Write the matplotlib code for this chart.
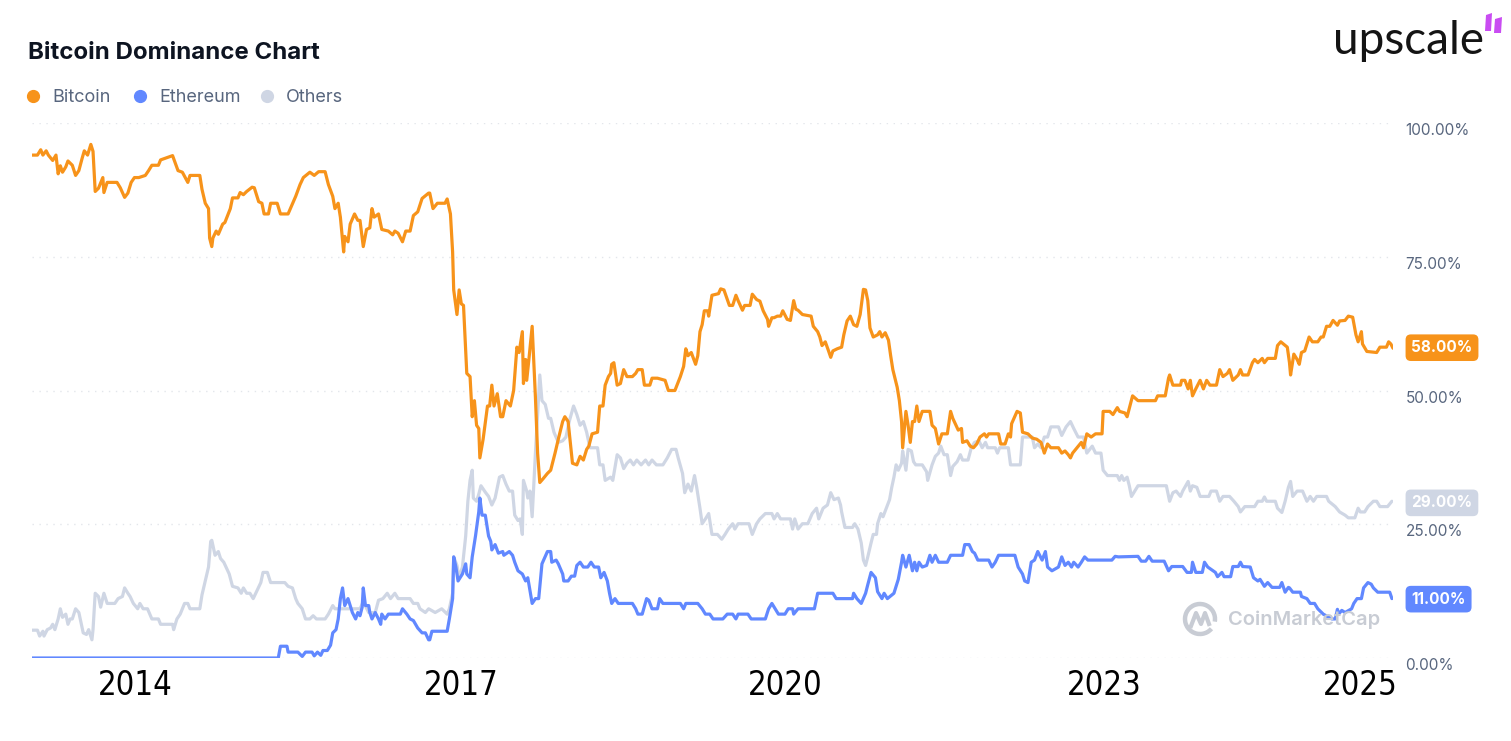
import matplotlib
matplotlib.use("Agg")
import matplotlib.pyplot as plt
from matplotlib.lines import Line2D
from matplotlib.patches import Arc, Polygon
import matplotlib.transforms as mtransforms

# ---- data (decimal year, dominance %) ----
btc_t = [2013.33, 2013.38, 2013.41, 2013.43, 2013.46, 2013.48, 2013.52, 2013.55, 2013.57, 2013.59,
         2013.61, 2013.64, 2013.66, 2013.70, 2013.73, 2013.76, 2013.79, 2013.81, 2013.84, 2013.87,
         2013.89, 2013.91, 2013.94, 2013.98, 2013.99, 2014.02, 2014.11, 2014.14, 2014.18, 2014.21,
         2014.24, 2014.27, 2014.31, 2014.37, 2014.40, 2014.43, 2014.49, 2014.51, 2014.62, 2014.67,
         2014.71, 2014.76, 2014.78, 2014.87, 2014.89, 2014.92, 2014.95, 2014.96, 2014.98, 2014.99,
         2015.02, 2015.04, 2015.08, 2015.10, 2015.15, 2015.17, 2015.22, 2015.24, 2015.27, 2015.30,
         2015.35, 2015.37, 2015.41, 2015.44, 2015.46, 2015.50, 2015.52, 2015.58, 2015.61, 2015.68,
         2015.75, 2015.79, 2015.82, 2015.88, 2015.92, 2015.96, 2016.02, 2016.05, 2016.09, 2016.11,
         2016.14, 2016.16, 2016.19, 2016.20, 2016.23, 2016.25, 2016.29, 2016.32, 2016.34, 2016.37,
         2016.40, 2016.43, 2016.45, 2016.47, 2016.51, 2016.54, 2016.60, 2016.64, 2016.66, 2016.69,
         2016.73, 2016.76, 2016.80, 2016.83, 2016.87, 2016.91, 2016.97, 2016.98, 2017.01, 2017.05,
         2017.12, 2017.14, 2017.17, 2017.19, 2017.20, 2017.23, 2017.25, 2017.27, 2017.29, 2017.32,
         2017.35, 2017.37, 2017.39, 2017.41, 2017.43, 2017.44, 2017.47, 2017.51, 2017.53, 2017.55,
         2017.57, 2017.60, 2017.63, 2017.65, 2017.68, 2017.72, 2017.75, 2017.78, 2017.80, 2017.83,
         2017.84, 2017.86, 2017.87, 2017.89, 2017.92, 2017.95, 2017.97, 2017.99, 2018.02, 2018.06,
         2018.09, 2018.13, 2018.16, 2018.20, 2018.22, 2018.25, 2018.29, 2018.33, 2018.36, 2018.39,
         2018.42, 2018.44, 2018.47, 2018.52, 2018.54, 2018.57, 2018.59, 2018.62, 2018.64, 2018.65,
         2018.67, 2018.70, 2018.73, 2018.76, 2018.79, 2018.84, 2018.87, 2018.89, 2018.93, 2018.95,
         2019.00, 2019.02, 2019.07, 2019.14, 2019.17, 2019.23, 2019.28, 2019.31, 2019.33, 2019.35,
         2019.38, 2019.42, 2019.44, 2019.46, 2019.48, 2019.50, 2019.53, 2019.54, 2019.57, 2019.63,
         2019.65, 2019.68, 2019.73, 2019.76, 2019.79, 2019.81, 2019.85, 2019.87, 2019.92, 2019.94,
         2019.98, 2020.01, 2020.04, 2020.08, 2020.09, 2020.12, 2020.14, 2020.17, 2020.20, 2020.22,
         2020.26, 2020.29, 2020.32, 2020.34, 2020.36, 2020.40, 2020.48, 2020.50, 2020.54, 2020.56,
         2020.58, 2020.61, 2020.64, 2020.66, 2020.68, 2020.72, 2020.76, 2020.78, 2020.81, 2020.84,
         2020.87, 2020.90, 2020.93, 2020.96, 2020.98, 2021.00, 2021.02, 2021.05, 2021.09, 2021.11,
         2021.13, 2021.16, 2021.19, 2021.21, 2021.23, 2021.27, 2021.29, 2021.31, 2021.32, 2021.35,
         2021.37, 2021.39, 2021.41, 2021.43, 2021.45, 2021.47, 2021.50, 2021.57, 2021.59, 2021.62,
         2021.65, 2021.68, 2021.73, 2021.76, 2021.78, 2021.81, 2021.83, 2021.86, 2021.87, 2021.91,
         2021.94, 2021.97, 2022.00, 2022.03, 2022.07, 2022.09, 2022.11, 2022.20, 2022.22, 2022.26,
         2022.29, 2022.31, 2022.32, 2022.37, 2022.40, 2022.42, 2022.47, 2022.51, 2022.55, 2022.59,
         2022.62, 2022.65, 2022.68, 2022.75, 2022.78, 2022.81, 2022.84, 2022.86, 2022.88, 2022.92,
         2022.96, 2022.98, 2023.01, 2023.05, 2023.09, 2023.15, 2023.16, 2023.22, 2023.25, 2023.29,
         2023.31, 2023.36, 2023.38, 2023.41, 2023.43, 2023.48, 2023.64, 2023.66, 2023.73, 2023.76,
         2023.77, 2023.80, 2023.87, 2023.88, 2023.91, 2023.94, 2023.96, 2023.98, 2024.01, 2024.05,
         2024.08, 2024.11, 2024.14, 2024.20, 2024.23, 2024.26, 2024.30, 2024.32, 2024.35, 2024.40,
         2024.42, 2024.44, 2024.49, 2024.53, 2024.55, 2024.58, 2024.62, 2024.64, 2024.67, 2024.74,
         2024.76, 2024.79, 2024.85, 2024.87, 2024.88, 2024.91, 2024.94, 2024.96, 2024.98, 2025.01,
         2025.05, 2025.08, 2025.13, 2025.16, 2025.18, 2025.21, 2025.24, 2025.27, 2025.31, 2025.33,
         2025.38, 2025.41, 2025.45, 2025.48, 2025.50, 2025.53, 2025.54, 2025.58, 2025.67, 2025.70,
         2025.76, 2025.78, 2025.80, 2025.82]
btc_v = [94.0, 94.0, 95.0, 94.0, 94.8, 94.0, 93.0, 94.0, 90.5, 92.0,
         90.8, 91.8, 92.9, 92.1, 90.2, 91.1, 93.4, 94.8, 94.0, 96.0,
         94.7, 87.2, 87.8, 89.8, 87.0, 88.9, 88.9, 87.9, 86.1, 86.9,
         88.9, 89.8, 89.8, 90.2, 91.1, 92.1, 92.1, 93.1, 93.9, 91.1,
         90.8, 88.9, 90.2, 90.2, 87.6, 85.0, 84.0, 78.5, 76.9, 78.5,
         79.8, 79.2, 81.1, 81.4, 84.0, 86.0, 86.0, 87.0, 86.6, 87.2,
         88.0, 87.9, 85.3, 85.0, 83.0, 83.0, 85.0, 85.0, 83.0, 83.0,
         86.3, 88.5, 89.8, 90.8, 90.2, 90.9, 90.9, 88.5, 86.3, 84.0,
         85.0, 82.4, 75.9, 78.8, 77.8, 81.1, 83.0, 81.8, 81.8, 76.9,
         80.1, 80.4, 84.0, 82.4, 83.0, 80.1, 79.8, 79.1, 79.8, 79.4,
         77.8, 79.8, 79.8, 82.7, 83.4, 85.9, 86.9, 86.9, 84.0, 85.0,
         85.0, 85.8, 83.0, 75.9, 68.8, 64.2, 68.8, 66.2, 65.9, 53.2,
         52.6, 45.1, 48.1, 43.5, 42.9, 37.4, 40.9, 47.1, 47.1, 51.0,
         47.1, 49.4, 45.1, 45.1, 48.1, 47.1, 50.0, 58.1, 57.1, 61.0,
         51.3, 55.8, 51.9, 55.8, 62.0, 48.7, 38.3, 32.8, 33.5, 34.5,
         35.1, 38.3, 40.9, 44.2, 45.1, 44.2, 36.4, 36.1, 37.7, 37.0,
         39.0, 39.6, 41.9, 42.2, 47.1, 47.1, 51.0, 52.6, 53.2, 54.9,
         55.2, 51.0, 51.3, 53.9, 52.6, 52.6, 53.2, 53.9, 53.9, 51.0,
         51.0, 52.3, 52.3, 51.9, 50.0, 50.0, 52.6, 54.5, 57.8, 56.5,
         57.1, 54.9, 56.5, 61.0, 62.3, 64.9, 64.9, 63.9, 67.8, 68.1,
         69.0, 68.8, 65.9, 65.9, 67.8, 66.8, 65.0, 65.9, 65.9, 68.0,
         67.0, 66.7, 64.9, 63.3, 62.0, 63.6, 63.6, 63.9, 63.9, 64.9,
         63.3, 63.1, 66.8, 65.2, 65.0, 64.2, 63.9, 62.0, 61.0, 60.0,
         58.4, 59.1, 57.4, 56.2, 57.4, 57.8, 58.1, 60.4, 63.0, 63.9,
         62.3, 62.0, 64.2, 68.9, 68.8, 66.8, 61.7, 60.0, 60.4, 61.0,
         60.0, 60.8, 59.4, 56.5, 53.9, 50.6, 48.1, 44.2, 39.3, 46.1,
         43.5, 40.3, 44.2, 44.2, 47.1, 44.2, 46.1, 46.1, 43.5, 42.9,
         40.0, 41.9, 41.9, 46.1, 44.8, 43.5, 42.6, 42.9, 40.3, 40.6,
         39.6, 39.3, 40.0, 41.3, 41.9, 41.3, 41.9, 41.9, 40.0, 40.0,
         41.9, 41.3, 43.8, 46.1, 45.8, 42.2, 41.9, 41.1, 40.9, 40.3,
         38.3, 40.0, 39.3, 39.3, 38.3, 38.7, 38.0, 37.4, 38.3, 39.3,
         40.3, 39.3, 41.9, 41.3, 41.9, 41.9, 46.1, 46.1, 45.5, 46.8,
         46.1, 45.8, 45.1, 47.4, 49.0, 48.1, 48.1, 49.0, 49.0, 52.3,
         52.9, 51.0, 51.0, 51.9, 51.9, 50.3, 51.9, 49.0, 50.3, 51.9,
         50.3, 51.9, 51.0, 51.0, 53.9, 52.6, 53.2, 53.9, 51.9, 52.9,
         53.9, 52.9, 52.9, 55.2, 55.8, 55.2, 56.0, 55.2, 56.0, 56.0,
         58.4, 59.1, 58.1, 55.2, 52.9, 56.8, 55.8, 54.9, 57.1, 57.4,
         60.0, 59.1, 59.1, 60.0, 60.0, 62.0, 62.0, 63.1, 62.2, 63.0,
         63.1, 63.9, 63.7, 60.4, 59.1, 61.0, 58.7, 57.3, 57.1, 58.1,
         58.1, 59.1, 58.7, 57.9]

eth_t = [2013.33, 2015.59, 2015.61, 2015.67, 2015.68, 2015.77, 2015.81, 2015.84, 2015.90, 2015.92,
         2015.95, 2015.98, 2016.00, 2016.04, 2016.07, 2016.09, 2016.12, 2016.14, 2016.16, 2016.18,
         2016.20, 2016.23, 2016.25, 2016.27, 2016.30, 2016.32, 2016.34, 2016.36, 2016.37, 2016.39,
         2016.42, 2016.43, 2016.45, 2016.48, 2016.51, 2016.53, 2016.54, 2016.57, 2016.60, 2016.71,
         2016.73, 2016.77, 2016.80, 2016.83, 2016.87, 2016.91, 2016.94, 2016.97, 2016.98, 2017.00,
         2017.14, 2017.16, 2017.19, 2017.20, 2017.22, 2017.24, 2017.28, 2017.31, 2017.32, 2017.35,
         2017.37, 2017.40, 2017.43, 2017.44, 2017.46, 2017.49, 2017.52, 2017.54, 2017.55, 2017.58,
         2017.61, 2017.65, 2017.66, 2017.71, 2017.74, 2017.76, 2017.79, 2017.83, 2017.86, 2017.88,
         2017.92, 2017.95, 2017.98, 2018.01, 2018.06, 2018.09, 2018.10, 2018.14, 2018.16, 2018.20,
         2018.21, 2018.25, 2018.28, 2018.31, 2018.33, 2018.36, 2018.39, 2018.43, 2018.46, 2018.49,
         2018.53, 2018.55, 2018.58, 2018.61, 2018.63, 2018.65, 2018.68, 2018.71, 2018.84, 2018.87,
         2018.89, 2018.93, 2018.97, 2018.99, 2019.02, 2019.07, 2019.09, 2019.12, 2019.28, 2019.31,
         2019.33, 2019.44, 2019.48, 2019.51, 2019.55, 2019.58, 2019.67, 2019.71, 2019.76, 2019.79,
         2019.81, 2019.90, 2019.93, 2020.06, 2020.09, 2020.12, 2020.15, 2020.18, 2020.24, 2020.27,
         2020.31, 2020.32, 2020.36, 2020.51, 2020.54, 2020.68, 2020.71, 2020.86, 2020.87, 2020.90,
         2020.94, 2020.98, 2021.00, 2021.03, 2021.07, 2021.09, 2021.13, 2021.15, 2021.18, 2021.24,
         2021.28, 2021.31, 2021.32, 2021.35, 2021.38, 2021.41, 2021.43, 2021.45, 2021.47, 2021.50,
         2021.54, 2021.57, 2021.59, 2021.62, 2021.65, 2021.73, 2021.76, 2021.87, 2021.89, 2021.93,
         2021.96, 2021.98, 2022.01, 2022.11, 2022.14, 2022.17, 2022.20, 2022.35, 2022.38, 2022.42,
         2022.44, 2022.47, 2022.50, 2022.53, 2022.56, 2022.60, 2022.63, 2022.65, 2022.69, 2022.75,
         2022.78, 2022.81, 2022.84, 2022.87, 2022.89, 2022.93, 2022.96, 2022.99, 2023.02, 2023.24,
         2023.27, 2023.30, 2023.48, 2023.51, 2023.55, 2023.58, 2023.61, 2023.72, 2023.76, 2023.79,
         2023.89, 2023.93, 2023.97, 2023.98, 2024.01, 2024.07, 2024.09, 2024.12, 2024.19, 2024.21,
         2024.25, 2024.27, 2024.33, 2024.35, 2024.40, 2024.42, 2024.44, 2024.51, 2024.54, 2024.58,
         2024.60, 2024.64, 2024.67, 2024.71, 2024.78, 2024.80, 2024.83, 2024.86, 2024.87, 2024.90,
         2024.97, 2024.98, 2025.03, 2025.06, 2025.10, 2025.13, 2025.18, 2025.26, 2025.29, 2025.31,
         2025.32, 2025.35, 2025.38, 2025.44, 2025.46, 2025.49, 2025.53, 2025.55, 2025.59, 2025.62,
         2025.64, 2025.68, 2025.79, 2025.81]
eth_v = [0.0, 0.0, 2.2, 2.2, 1.1, 1.1, 0.3, 1.1, 1.1, 0.4,
         1.1, 0.5, 1.4, 1.4, 2.4, 4.7, 5.3, 7.3, 11.1, 13.1,
         9.8, 11.1, 9.8, 8.5, 7.3, 8.5, 7.9, 9.5, 13.1, 9.8,
         9.8, 8.5, 7.3, 8.5, 7.3, 6.3, 8.2, 7.3, 8.2, 8.2,
         9.2, 8.2, 7.3, 7.0, 5.6, 4.7, 4.7, 3.4, 3.4, 5.0,
         5.0, 7.3, 11.1, 18.9, 17.0, 14.4, 15.7, 17.6, 15.7, 15.0,
         18.9, 22.8, 27.3, 29.9, 26.7, 26.7, 22.8, 21.8, 20.2, 21.2,
         19.6, 19.9, 19.2, 19.9, 19.2, 17.9, 16.3, 15.7, 14.4, 15.0,
         10.2, 11.1, 11.1, 17.6, 19.9, 19.9, 17.9, 18.3, 17.6, 15.7,
         14.4, 14.4, 15.3, 15.3, 17.3, 17.9, 17.0, 17.0, 17.9, 17.0,
         17.0, 15.0, 16.0, 14.4, 12.1, 10.2, 11.1, 10.2, 10.2, 9.2,
         8.2, 8.2, 11.1, 10.8, 9.2, 9.2, 11.1, 10.2, 10.2, 9.2,
         10.2, 10.2, 9.2, 8.2, 8.2, 7.3, 7.3, 8.2, 8.2, 7.3,
         8.2, 8.2, 7.3, 7.3, 9.2, 10.2, 9.2, 8.2, 8.2, 9.2,
         9.2, 8.2, 9.2, 9.2, 12.1, 12.1, 11.1, 11.1, 12.1, 11.1,
         10.2, 12.1, 13.7, 16.0, 15.0, 12.4, 11.1, 12.1, 11.1, 12.1,
         14.7, 17.9, 19.2, 17.0, 19.2, 16.3, 17.9, 16.3, 17.9, 17.0,
         17.3, 19.2, 17.9, 19.2, 17.9, 17.9, 19.2, 19.2, 21.2, 21.2,
         19.9, 19.6, 18.3, 18.3, 17.0, 17.9, 19.2, 19.2, 17.0, 15.7,
         14.4, 14.1, 17.9, 18.3, 19.9, 18.3, 19.9, 17.0, 16.3, 17.0,
         18.9, 17.3, 17.9, 17.0, 17.9, 17.0, 17.9, 18.9, 18.3, 18.3,
         19.0, 18.9, 19.0, 18.1, 18.1, 19.0, 18.1, 18.1, 16.3, 17.1,
         17.1, 16.0, 16.0, 17.9, 16.0, 16.0, 17.9, 17.0, 16.0, 15.2,
         16.0, 15.2, 15.2, 17.1, 17.1, 17.9, 17.1, 17.0, 15.0, 14.4,
         14.7, 13.4, 14.1, 13.2, 13.2, 14.1, 12.3, 13.2, 13.1, 12.3,
         12.3, 11.5, 11.1, 10.2, 10.2, 9.2, 8.2, 7.3, 7.3, 9.1,
         8.2, 8.9, 8.5, 9.2, 10.2, 11.1, 11.1, 13.1, 14.1, 13.8,
         13.1, 12.3, 12.3, 11.1]

oth_t = [2013.33, 2013.38, 2013.40, 2013.43, 2013.44, 2013.47, 2013.50, 2013.52, 2013.54, 2013.57,
         2013.59, 2013.61, 2013.64, 2013.66, 2013.68, 2013.70, 2013.73, 2013.76, 2013.78, 2013.80,
         2013.83, 2013.85, 2013.88, 2013.89, 2013.91, 2013.94, 2013.96, 2013.99, 2014.02, 2014.09,
         2014.12, 2014.16, 2014.18, 2014.21, 2014.23, 2014.26, 2014.30, 2014.32, 2014.35, 2014.39,
         2014.43, 2014.49, 2014.51, 2014.62, 2014.63, 2014.66, 2014.69, 2014.73, 2014.76, 2014.78,
         2014.87, 2014.89, 2014.92, 2014.95, 2014.97, 2014.98, 2015.01, 2015.04, 2015.06, 2015.09,
         2015.12, 2015.14, 2015.17, 2015.22, 2015.25, 2015.27, 2015.30, 2015.33, 2015.36, 2015.40,
         2015.43, 2015.45, 2015.49, 2015.52, 2015.65, 2015.68, 2015.72, 2015.75, 2015.77, 2015.81,
         2015.84, 2015.88, 2015.91, 2015.94, 2016.02, 2016.05, 2016.09, 2016.11, 2016.16, 2016.34,
         2016.37, 2016.42, 2016.48, 2016.51, 2016.55, 2016.59, 2016.62, 2016.66, 2016.69, 2016.80,
         2016.83, 2016.87, 2016.89, 2016.94, 2016.97, 2017.03, 2017.09, 2017.14, 2017.16, 2017.19,
         2017.20, 2017.23, 2017.25, 2017.28, 2017.31, 2017.33, 2017.35, 2017.37, 2017.38, 2017.41,
         2017.43, 2017.45, 2017.49, 2017.52, 2017.55, 2017.58, 2017.62, 2017.65, 2017.68, 2017.71,
         2017.74, 2017.76, 2017.79, 2017.81, 2017.83, 2017.84, 2017.87, 2017.88, 2017.90, 2017.92,
         2017.95, 2017.98, 2017.99, 2018.01, 2018.04, 2018.07, 2018.09, 2018.12, 2018.16, 2018.20,
         2018.23, 2018.26, 2018.30, 2018.33, 2018.36, 2018.39, 2018.42, 2018.45, 2018.52, 2018.54,
         2018.57, 2018.59, 2018.64, 2018.66, 2018.70, 2018.73, 2018.76, 2018.79, 2018.82, 2018.85,
         2018.88, 2018.92, 2018.96, 2018.99, 2019.02, 2019.06, 2019.12, 2019.16, 2019.20, 2019.24,
         2019.26, 2019.30, 2019.32, 2019.35, 2019.38, 2019.41, 2019.43, 2019.46, 2019.48, 2019.51,
         2019.54, 2019.57, 2019.62, 2019.66, 2019.69, 2019.72, 2019.76, 2019.78, 2019.81, 2019.91,
         2019.94, 2019.98, 2020.01, 2020.06, 2020.12, 2020.14, 2020.17, 2020.20, 2020.29, 2020.31,
         2020.33, 2020.36, 2020.40, 2020.45, 2020.49, 2020.53, 2020.55, 2020.59, 2020.63, 2020.66,
         2020.69, 2020.73, 2020.75, 2020.76, 2020.79, 2020.86, 2020.88, 2020.91, 2020.94, 2020.96,
         2020.98, 2021.00, 2021.03, 2021.05, 2021.08, 2021.09, 2021.12, 2021.14, 2021.17, 2021.20,
         2021.22, 2021.24, 2021.26, 2021.28, 2021.31, 2021.32, 2021.35, 2021.37, 2021.40, 2021.42,
         2021.44, 2021.50, 2021.54, 2021.55, 2021.59, 2021.62, 2021.65, 2021.67, 2021.70, 2021.73,
         2021.76, 2021.78, 2021.82, 2021.85, 2021.87, 2021.92, 2021.95, 2021.98, 2022.02, 2022.05,
         2022.08, 2022.10, 2022.17, 2022.19, 2022.21, 2022.29, 2022.31, 2022.40, 2022.42, 2022.51,
         2022.53, 2022.56, 2022.59, 2022.62, 2022.65, 2022.68, 2022.75, 2022.78, 2022.82, 2022.86,
         2022.89, 2022.93, 2022.98, 2023.01, 2023.06, 2023.09, 2023.14, 2023.16, 2023.20, 2023.24,
         2023.29, 2023.31, 2023.33, 2023.35, 2023.38, 2023.40, 2023.42, 2023.45, 2023.48, 2023.74,
         2023.76, 2023.77, 2023.80, 2023.83, 2023.87, 2023.89, 2023.94, 2023.96, 2023.98, 2024.02,
         2024.05, 2024.13, 2024.15, 2024.20, 2024.23, 2024.26, 2024.32, 2024.36, 2024.40, 2024.42,
         2024.46, 2024.55, 2024.58, 2024.62, 2024.64, 2024.66, 2024.74, 2024.76, 2024.80, 2024.83,
         2024.86, 2024.88, 2024.90, 2024.94, 2024.99, 2025.03, 2025.06, 2025.09, 2025.12, 2025.21,
         2025.23, 2025.29, 2025.33, 2025.38, 2025.41, 2025.47, 2025.50, 2025.52, 2025.56, 2025.59,
         2025.64, 2025.67, 2025.70, 2025.77, 2025.81]
oth_v = [5.2, 5.2, 4.1, 5.0, 4.1, 5.3, 5.6, 6.3, 5.3, 7.3,
         9.2, 7.6, 8.2, 6.3, 7.3, 7.3, 9.2, 8.5, 6.6, 4.7,
         4.4, 5.3, 3.4, 5.3, 12.1, 11.5, 9.5, 12.1, 10.2, 10.2,
         11.1, 11.5, 13.1, 12.1, 11.5, 10.2, 9.2, 10.2, 9.2, 9.2,
         7.3, 7.3, 6.3, 6.3, 5.3, 7.3, 8.2, 10.2, 10.2, 9.2,
         9.2, 11.8, 14.4, 17.0, 21.8, 22.0, 19.2, 19.9, 18.6, 17.9,
         16.6, 15.7, 13.4, 13.1, 12.1, 13.1, 12.1, 12.1, 11.1, 12.8,
         14.1, 16.0, 16.0, 14.1, 14.1, 13.4, 13.1, 11.1, 10.2, 9.2,
         7.3, 7.3, 7.9, 7.3, 7.3, 8.2, 9.8, 9.2, 9.2, 9.2,
         10.5, 8.5, 8.5, 10.8, 11.1, 12.1, 11.1, 12.1, 11.1, 11.1,
         10.2, 10.2, 9.2, 8.5, 9.2, 8.5, 9.2, 8.2, 9.2, 12.1,
         18.9, 17.3, 15.0, 17.0, 22.8, 29.3, 33.2, 35.1, 29.9, 29.3,
         30.6, 32.2, 31.0, 30.2, 28.6, 29.9, 33.8, 34.1, 32.5, 31.2,
         31.2, 26.7, 25.7, 26.0, 23.1, 33.2, 31.2, 29.9, 31.2, 26.4,
         38.3, 49.4, 52.9, 48.1, 47.4, 44.8, 44.8, 42.2, 40.3, 40.6,
         41.3, 44.2, 47.1, 45.5, 43.5, 44.2, 42.2, 39.3, 39.3, 36.1,
         36.1, 33.2, 33.8, 33.2, 38.0, 37.4, 35.4, 36.4, 37.0, 36.1,
         37.0, 36.1, 37.0, 36.1, 37.0, 36.1, 36.1, 37.4, 39.0, 39.0,
         37.4, 34.5, 30.9, 32.5, 31.2, 34.1, 31.9, 28.0, 25.1, 26.0,
         27.0, 23.1, 23.1, 22.2, 23.1, 24.1, 25.1, 24.1, 25.1, 25.1,
         23.1, 25.1, 26.0, 27.0, 27.0, 26.0, 27.0, 26.0, 26.0, 24.1,
         26.0, 24.1, 25.1, 25.1, 27.0, 28.0, 26.0, 28.0, 28.6, 30.9,
         29.6, 29.9, 28.6, 27.3, 24.4, 24.4, 25.1, 24.1, 21.5, 18.3,
         17.3, 18.9, 21.5, 23.1, 23.1, 25.1, 27.0, 26.4, 28.0, 29.6,
         31.9, 33.8, 36.1, 35.1, 36.4, 38.7, 35.1, 39.0, 38.7, 36.7,
         36.1, 36.1, 34.8, 33.2, 36.1, 37.7, 38.3, 39.6, 38.0, 38.0,
         34.1, 35.8, 36.7, 38.0, 37.0, 37.0, 39.3, 40.3, 40.6, 39.3,
         40.3, 39.3, 39.3, 38.3, 39.3, 39.3, 36.1, 36.1, 41.3, 41.3,
         39.3, 40.0, 39.3, 41.3, 41.3, 43.2, 43.2, 41.6, 43.2, 44.2,
         42.9, 41.3, 41.3, 38.3, 39.6, 38.3, 38.3, 35.1, 34.1, 34.1,
         34.1, 33.2, 34.1, 33.2, 33.8, 32.2, 30.2, 31.2, 32.2, 32.2,
         30.2, 29.3, 30.9, 31.2, 30.2, 31.2, 33.0, 31.2, 32.2, 31.9,
         30.2, 30.2, 31.2, 31.2, 29.3, 30.2, 30.2, 29.3, 28.3, 27.3,
         28.3, 28.3, 29.3, 29.3, 30.1, 29.3, 29.3, 28.0, 27.2, 29.3,
         31.9, 33.0, 30.2, 31.2, 31.2, 29.3, 30.2, 29.3, 30.2, 30.2,
         29.3, 28.3, 27.3, 26.7, 26.2, 26.2, 28.0, 27.3, 27.3, 28.3,
         29.3, 29.3, 28.3, 28.3, 29.3]

names = ['Bitcoin', 'Ethereum', 'Others']
colors = ['#f7931a', '#6188ff', '#cfd6e4']
last_values = [58.00, 11.00, 29.00]   # badge values shown at the right edge
badge_names = ['Bitcoin', 'Ethereum', 'Others']
y_ticks = [0, 25, 50, 75, 100]
x_tick_pos = [2014.28, 2017.27, 2020.24, 2023.17, 2025.52]
x_tick_labels = ['2014', '2017', '2020', '2023', '2025']

W, H = 1511, 741
fig = plt.figure(figsize=(W / 100, H / 100), dpi=100)
fig.patch.set_facecolor('white')
ax = fig.add_axes([32 / W, 1 - 658 / H, (1393 - 32) / W, (658 - 123) / H])
ax.set_facecolor('none')

series = {'Bitcoin': (btc_t, btc_v), 'Ethereum': (eth_t, eth_v), 'Others': (oth_t, oth_v)}
zorders = {'Bitcoin': 4, 'Ethereum': 3, 'Others': 2}
for name, col in zip(names, colors):
    t, v = series[name]
    ax.plot(t, v, color=col, lw=2.3, zorder=zorders[name],
            solid_joinstyle='round', solid_capstyle='round')

ax.set_xlim(2013.33, 2025.82)
ax.set_ylim(0, 100)
for s in ax.spines.values():
    s.set_visible(False)

ax.set_yticks(y_ticks)
ax.grid(axis='y', color='#e3e6eb', lw=1, linestyle=(0, (1, 4)), zorder=0)
ax.yaxis.tick_right()
ax.set_yticklabels([f'{v:.2f}%' for v in y_ticks])
ax.tick_params(axis='y', length=0, pad=9, labelsize=11, labelcolor='#58667e')
for lbl in ax.get_yticklabels():
    lbl.set_fontfamily(['Inter', 'DejaVu Sans'])
    lbl.set_verticalalignment('top')

ax.set_xticks(x_tick_pos)
ax.set_xticklabels(x_tick_labels)
ax.tick_params(axis='x', length=0, pad=8, labelsize=23.5, labelcolor='black')
for lbl in ax.get_xticklabels():
    lbl.set_fontfamily(['DejaVu Sans'])
    lbl.set_fontstretch('condensed')
    lbl.set_fontweight('light')

# value badges at the right edge
btrans = mtransforms.blended_transform_factory(ax.transAxes, ax.transData)
for name, val in zip(badge_names, last_values):
    col = colors[names.index(name)]
    ax.text(1.0135, val, f'{val:.2f}%', transform=btrans, ha='left', va='center',
            fontsize=11, fontweight='bold', color='white', family=['Inter', 'DejaVu Sans'],
            bbox=dict(boxstyle='round,pad=0.38,rounding_size=0.35', fc=col, ec='none'),
            clip_on=False, zorder=6)

# title and legend
fig.text(28 / W, 1 - 53 / H, 'Bitcoin Dominance Chart', fontsize=17.3, fontweight='bold',
         color='#0d1421', va='center', ha='left', family=['Inter', 'DejaVu Sans'])
leg_x = [33, 140, 267]
for name, col, lx in zip(names, colors, leg_x):
    fig.add_artist(Line2D([lx / W], [1 - 96 / H], marker='o', ms=8.5, color=col,
                          linestyle='none', transform=fig.transFigure))
    fig.text((lx + 19) / W, 1 - 97 / H, name, fontsize=13, color='#58667e', va='center',
             ha='left', family=['Inter', 'DejaVu Sans'])

# upscale logo
fig.text(1333 / W, 1 - 54 / H, 'upscale', fontsize=33, color='#141414', va='baseline',
         ha='left', family=['Lato', 'DejaVu Sans'], fontweight='normal')
purple = '#c94cf2'
for pts in ([(1485, 31), (1491, 31), (1492, 13), (1486, 15)],
            [(1494, 33), (1501, 33), (1502, 17), (1495, 19)]):
    fig.add_artist(Polygon([(x / W, 1 - y / H) for x, y in pts], closed=True,
                           transform=fig.transFigure, fc=purple, ec='none'))

# CoinMarketCap watermark
wm = '#c8ccd4'
fig.add_artist(Arc((1200 / W, 1 - 619 / H), 30 / W, 30 / H, theta1=-20, theta2=300,
                   transform=fig.transFigure, color=wm, lw=3.2, zorder=1))
wx = [1191, 1196, 1201, 1205, 1209]
wy = [626, 613, 624, 613, 624]
fig.add_artist(Line2D([x / W for x in wx], [1 - y / H for y in wy], color=wm, lw=3,
                      transform=fig.transFigure, solid_joinstyle='round', zorder=1))
fig.text(1228 / W, 1 - 620 / H, 'CoinMarketCap', fontsize=14.5, fontweight='semibold',
         color=wm, va='center', ha='left', family=['Inter', 'DejaVu Sans'], zorder=1)

fig.savefig('out.png', dpi=100, facecolor='white')
